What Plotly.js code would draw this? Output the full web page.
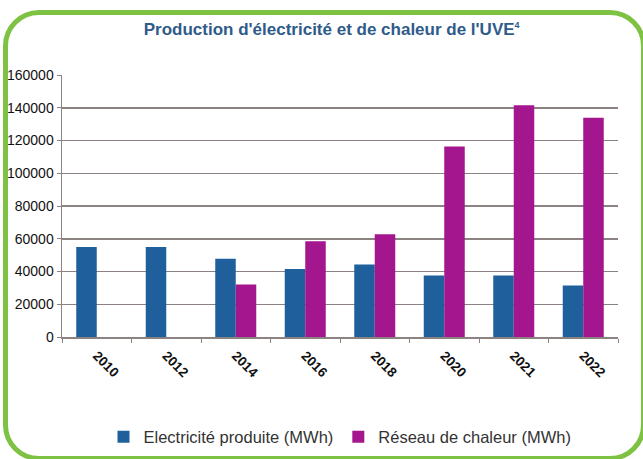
<!DOCTYPE html>
<html>
<head>
<meta charset="utf-8">
<script src="https://cdn.plot.ly/plotly-3.0.1.min.js"></script>
<style>
  html, body { margin:0; padding:0; background:#ffffff; overflow:hidden; }
  #frame { position:absolute; left:3px; top:10px; width:643px; height:451px; box-sizing:border-box;
           border:5px solid #7dc242; border-radius:36px; z-index:0; }
  #chart { position:absolute; left:0; top:0; width:643px; height:459px; z-index:1; }
</style>
</head>
<body>
<div id="frame"></div>
<div id="chart"></div>
<script>
const years = ["2010", "2012", "2014", "2016", "2018", "2020", "2021", "2022"];
const electricite = [55000, 55000, 47800, 41500, 44200, 37600, 37600, 31500];
const reseau = [null, null, 32000, 58400, 62700, 116400, 141600, 133900];
const yTicks = [0, 20000, 40000, 60000, 80000, 100000, 120000, 140000, 160000];

const traces = [
  { type: "bar", name: "Electricité produite (MWh)", x: years, y: electricite,
    marker: { color: "#1f5f9c" } },
  { type: "bar", name: "Réseau de chaleur (MWh)", x: years, y: reseau,
    marker: { color: "#a3168e" } }
];

const layout = {
  width: 643, height: 459,
  paper_bgcolor: "rgba(0,0,0,0)",
  plot_bgcolor: "#ffffff",
  margin: { l: 62, r: 25, t: 75, b: 122, pad: 0, autoexpand: false },
  barmode: "group", bargap: 0.41, bargroupgap: 0,
  font: { family: "Liberation Sans, Arial, sans-serif", color: "#222222" },
  title: { text: "Production d'électricité et de chaleur de l'UVE<sup><span style=\"font-size:9px\">4</span></sup>",
    x: 0.485, xref: "paper", xanchor: "center", y: 0.937, yanchor: "middle",
    font: { family: "Liberation Sans, Arial, sans-serif", size: 17, color: "#2f5b8a", weight: "bold" } },
  xaxis: { type: "category", tickangle: 45, tickson: "boundaries", ticks: "outside", ticklen: 4,
    tickcolor: "#8c8282", showline: true, linecolor: "#8c8282", linewidth: 1.5,
    ticklabelstandoff: 4, automargin: false,
    tickfont: { size: 13.5, color: "#111111", weight: "bold" }, showgrid: false },
  yaxis: { range: [0, 160000], tickvals: yTicks, ticktext: yTicks.map(String),
    ticks: "outside", ticklen: 4, tickcolor: "#8c8282", automargin: false,
    showline: true, linecolor: "#8c8282", linewidth: 1.5,
    gridcolor: "#8c8282", gridwidth: 1.5, zeroline: false,
    tickfont: { size: 14, color: "#111111" } },
  legend: { orientation: "h", x: 0.5, xref: "paper", xanchor: "center",
    yref: "container", y: 0.048, yanchor: "middle",
    font: { size: 16.5, color: "#333333" }, itemwidth: 30, tracegroupgap: 0,
    bgcolor: "rgba(0,0,0,0)" },
  showlegend: true
};

Plotly.newPlot("chart", traces, layout, { displayModeBar: false, staticPlot: true });
</script>
</body>
</html>
